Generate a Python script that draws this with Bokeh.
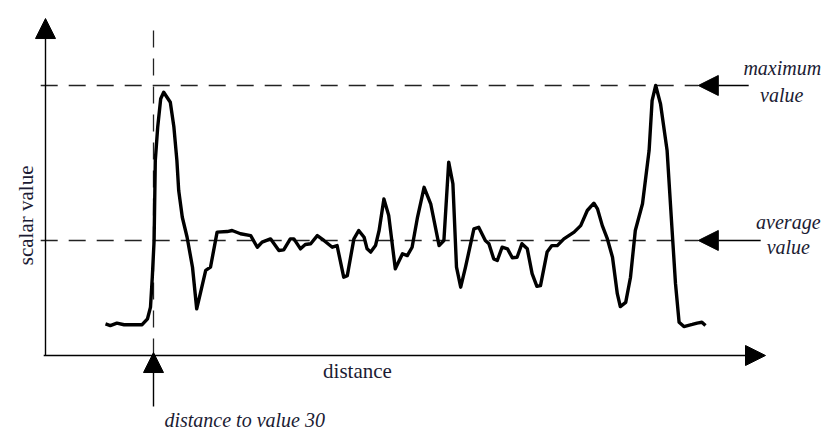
import math
from bokeh.plotting import figure
from bokeh.models import Range1d, Arrow, NormalHead, Label
from bokeh.embed import file_html
from bokeh.resources import INLINE

# ---- data ----
distance = [10.0, 10.8, 11.9, 13.1, 16.1, 17.0, 17.5, 17.8, 18.1, 18.3, 18.7, 19.2, 19.7,
            20.8, 21.4, 21.9, 22.2, 22.8, 23.6, 24.5, 25.2, 25.8, 26.7, 27.5, 28.6, 30.3,
            31.1, 32.5, 34.2, 35.3, 36.1, 37.5, 38.9, 39.7, 40.8, 41.4, 42.5, 43.3, 44.2,
            45.3, 46.4, 47.8, 48.6, 49.7, 50.3, 51.4, 52.2, 53.1, 53.6, 54.2, 55.0, 55.6,
            56.4, 57.2, 58.3, 59.5, 60.3, 61.1, 62.0, 63.1, 64.2, 65.6, 66.4, 67.2, 67.9,
            68.5, 69.2, 70.0, 71.4, 72.2, 73.3, 73.9, 74.7, 75.3, 76.1, 77.0, 77.8, 78.6,
            79.4, 80.3, 81.1, 81.9, 82.5, 83.6, 84.4, 85.3, 86.4, 88.1, 89.2, 90.3, 91.4,
            92.0, 92.8, 93.6, 94.5, 95.3, 95.8, 96.7, 97.5, 98.3, 99.5, 100.6, 101.1, 101.7,
            102.5, 103.6, 104.4, 105.0, 105.6, 106.4, 107.8, 108.6, 109.4, 110.0]
scalar_value = [11.7, 11.1, 12.0, 11.4, 11.4, 13.6, 17.9, 29.0, 42.6, 72.2, 84.6, 95.1, 97.5,
                93.8, 84.6, 72.2, 61.1, 51.2, 43.8, 32.7, 17.3, 22.9, 31.5, 32.7, 45.7, 45.9,
                46.3, 45.1, 44.4, 40.1, 42.0, 43.2, 38.9, 39.1, 43.2, 43.2, 39.5, 41.1, 41.4,
                44.4, 42.6, 40.1, 40.7, 29.0, 29.6, 43.2, 46.3, 43.8, 39.5, 38.3, 40.7, 46.3,
                58.0, 51.9, 32.1, 37.7, 37.0, 40.1, 51.2, 62.3, 56.2, 40.7, 42.6, 71.6, 63.6,
                32.7, 25.3, 32.7, 46.9, 47.5, 42.6, 41.4, 35.8, 35.2, 40.1, 39.5, 36.2, 36.4,
                41.4, 39.5, 30.3, 25.6, 25.9, 38.3, 40.7, 40.7, 43.2, 45.7, 48.1, 53.7, 56.4,
                54.3, 48.1, 43.5, 36.4, 22.9, 18.1, 19.7, 29.0, 46.3, 56.2, 75.9, 94.4, 100.0,
                93.2, 75.9, 47.5, 26.6, 12.3, 10.7, 11.5, 12.0, 12.3, 11.1]
maximum_value = max(scalar_value)
average_value = 42.6
distance_to_value_30 = 18.0

labels_max = ["maximum", "value"]
labels_avg = ["average", "value"]

FONT = "'Liberation Serif', 'Times New Roman', 'DejaVu Serif', serif"
TEXT_COLOR = "#1b1b33"

p = figure(width=824, height=431, output_backend="svg", toolbar_location=None,
           x_range=Range1d(-7.5, 129.833), y_range=Range1d(-28.148, 131.481),
           x_axis_type=None, y_axis_type=None, min_border=0,
           background_fill_color="white", border_fill_color="white")
p.outline_line_color = None
p.grid.visible = False

def head():
    return NormalHead(size=20, fill_color="black", line_color="black", line_width=1)

# axes with arrows
p.add_layout(Arrow(x_start=0, y_start=0, x_end=0, y_end=124.8, end=head(),
                   line_width=1.4, line_color="black"))
p.add_layout(Arrow(x_start=-0.3, y_start=0, x_end=120, y_end=0, end=head(),
                   line_width=1.4, line_color="black"))

# dashed reference lines
dash = "17 11"
p.segment(x0=[-0.8, -0.8], y0=[maximum_value, average_value],
          x1=[108.8, 108.8], y1=[maximum_value, average_value],
          line_color="#222222", line_width=1.3, line_dash=dash)
p.segment(x0=[distance_to_value_30], y0=[0], x1=[distance_to_value_30], y1=[124.1],
          line_color="#222222", line_width=1.3, line_dash=dash)

# profile curve
p.line(distance, scalar_value, line_color="black", line_width=3.4, line_join="round")

# pointer arrows
p.add_layout(Arrow(x_start=117.2, y_start=maximum_value, x_end=108.8, y_end=maximum_value,
                   end=head(), line_width=1.4, line_color="black"))
p.add_layout(Arrow(x_start=119.2, y_start=average_value, x_end=108.8, y_end=average_value,
                   end=head(), line_width=1.4, line_color="black"))
p.add_layout(Arrow(x_start=distance_to_value_30, y_start=-18.9, x_end=distance_to_value_30,
                   y_end=1.1, end=head(), line_width=1.4, line_color="black"))

def lab(x, y, text, size, italic=False, angle=0):
    p.add_layout(Label(x=x, y=y, text=text, text_font=FONT, text_font_size=f"{size}px",
                       text_font_style="italic" if italic else "normal",
                       text_color=TEXT_COLOR, text_align="center", text_baseline="middle",
                       angle=angle))

lab(-3.17, 51.9, "scalar value", 21, angle=math.pi / 2)
lab(52.0, -5.6, "distance", 21)
lab(33.2, -23.9, "distance to value 30", 20, italic=True)
lab(122.8, 106.3, labels_max[0], 20, italic=True)
lab(122.7, 96.3, labels_max[1], 20, italic=True)
lab(123.8, 49.3, labels_avg[0], 20, italic=True)
lab(123.8, 40.0, labels_avg[1], 20, italic=True)

open("out.html", "w").write(file_html(p, INLINE))
